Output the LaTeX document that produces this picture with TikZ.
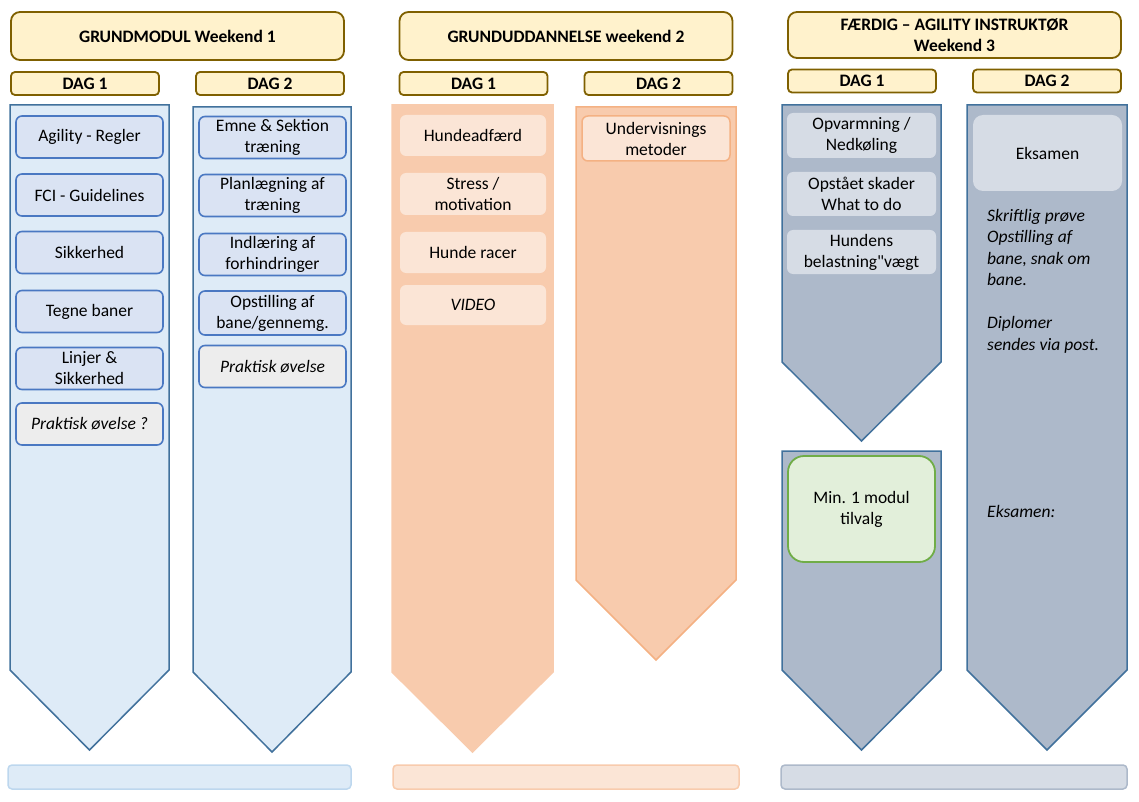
\documentclass[tikz,border=0pt]{standalone}
\usepackage{fontspec}
\setmainfont{Carlito}[Ligatures=TeXOff]
\usetikzlibrary{positioning}

\definecolor{headfill}{HTML}{FFF2CC}
\definecolor{headline}{HTML}{7F6000}
\definecolor{bluefill}{HTML}{DEEBF7}
\definecolor{blueline}{HTML}{41719C}
\definecolor{barline}{HTML}{BDD7EE}
\definecolor{itemfill}{HTML}{DAE3F3}
\definecolor{itemline}{HTML}{4A78C2}
\definecolor{grayfill}{HTML}{EDEDED}
\definecolor{orangefill}{HTML}{F8CBAD}
\definecolor{orangeline}{HTML}{F4B183}
\definecolor{orangeitem}{HTML}{FBE5D6}
\definecolor{slatefill}{HTML}{ADB9CA}
\definecolor{slateitem}{HTML}{D6DCE5}
\definecolor{greenfill}{HTML}{E2EFDA}
\definecolor{greenline}{HTML}{70AD47}

\begin{document}
\begin{tikzpicture}[x=1pt, y=-1pt, font=\fontsize{17.5}{21}\selectfont,
  head/.style={draw=headline, fill=headfill, line width=1.8pt, rounded corners=9pt,
    inner sep=0pt, minimum width=333pt, align=center, font=\fontsize{17.5}{21}\selectfont\bfseries},
  dag/.style={draw=headline, fill=headfill, line width=1.8pt, rounded corners=4pt,
    inner sep=0pt, minimum width=148pt, minimum height=23pt, font=\fontsize{17.5}{21}\selectfont\bfseries},
  item/.style={draw=itemline, fill=itemfill, line width=1.6pt, rounded corners=6pt,
    inner sep=0pt, minimum width=147pt, minimum height=42pt, align=center},
  task/.style={item, fill=grayfill, font=\fontsize{17.5}{21}\selectfont\itshape},
  peach/.style={fill=orangeitem, rounded corners=6pt, inner sep=0pt,
    minimum width=146pt, minimum height=41pt, align=center},
  slate/.style={fill=slateitem, rounded corners=6pt, inner sep=0pt,
    minimum width=149pt, minimum height=44pt, align=center},
  blueday/.style={fill=bluefill, draw=blueline},
  peachday/.style={fill=orangefill, draw=orangefill},
  peachday2/.style={fill=orangefill, draw=orangeline},
  slateday/.style={fill=slatefill, draw=blueline},
  bar/.style={line width=1.5pt, rounded corners=4pt, inner sep=0pt, minimum height=24pt}]
  \useasboundingbox (0,0) rectangle (1139,802);

  % arrows for each day
  \foreach \xa/\xb/\ya/\yb/\yc/\sty in {
      10/169/105/670/750/blueday, 193/351/107/672/752/blueday,
      392/553/105/672/752/peachday, 576/736/107/580/660/peachday2,
      782/941/105/362/441/slateday, 782/941/451/670/750/slateday,
      967/1127/105/670/750/slateday}
    \draw[line width=1.5pt, \sty] (\xa,\ya) -- (\xb,\ya) -- (\xb,\yb)
      -- ({(\xa+\xb)/2},\yc) -- (\xa,\yb) -- cycle;

  % headers
  \node[head, minimum height=48pt] (w1) at (177.5,36) {GRUNDMODUL Weekend 1};
  \node[head, minimum height=48pt] (w2) at (566,36) {GRUNDUDDANNELSE weekend 2};
  \node[head, minimum height=46pt] (w3) at (954.5,35) {FÆRDIG – AGILITY INSTRUKTØR\\Weekend 3};
  \node[dag] (w1d1) at (85,83.5) {DAG 1};
  \node[dag] (w1d2) at (270,83.5) {DAG 2};
  \node[dag] (w2d1) at (473.5,83.5) {DAG 1};
  \node[dag] (w2d2) at (658.5,83.5) {DAG 2};
  \node[dag] (w3d1) at (862,81) {DAG 1};
  \node[dag] (w3d2) at (1047,81) {DAG 2};

  % weekend 1
  \node[item] (agility) at (89.5,137) {Agility - Regler};
  \node[item] (fci) at (89.5,195) {FCI - Guidelines};
  \node[item] (sikker) at (89.5,252.5) {Sikkerhed};
  \node[item] (tegne) at (89.5,311.5) {Tegne baner};
  \node[item] (linjer) at (89.5,368.5) {Linjer \&\\Sikkerhed};
  \node[task] (prak1) at (89.5,424) {Praktisk øvelse ?};
  \node[item] (emne) at (272.5,137.5) {Emne \& Sektion\\træning};
  \node[item] (plan) at (272.5,195.5) {Planlægning af\\træning};
  \node[item] (indl) at (272.5,254.5) {Indlæring af\\forhindringer};
  \node[item, minimum height=44pt] (opst) at (272.5,313) {Opstilling af\\bane/gennemg.};
  \node[task] (prak2) at (272.5,366.5) {Praktisk øvelse};

  % weekend 2
  \node[peach] (adfaerd) at (473,135.5) {Hundeadfærd};
  \node[peach, minimum height=42pt] (stress) at (473,194) {Stress /\\motivation};
  \node[peach] (racer) at (473,252.5) {Hunde racer};
  \node[peach, minimum height=40pt, font=\fontsize{17.5}{21}\selectfont\itshape] (video) at (473,305) {VIDEO};
  \node[peach, draw=orangeline, line width=1.5pt, minimum width=148pt, minimum height=45pt] (underv) at (656,138.5) {Undervisnings\\metoder};

  % weekend 3
  \node[slate, minimum height=45pt] (opvarm) at (861.5,135.5) {Opvarmning /\\Nedkøling};
  \node[slate] (skader) at (861.5,194) {Opstået skader\\What to do};
  \node[slate] (belast) at (861.5,252) {Hundens\\belastning"vægt};
  \node[draw=greenline, fill=greenfill, line width=1.8pt, rounded corners=16pt, inner sep=0pt,
    minimum width=147pt, minimum height=106pt, align=center] (tilvalg) at (861.5,509) {Min. 1 modul\\tilvalg};
  \node[slate, minimum height=76pt, rounded corners=10pt] (eksamen) at (1047.5,153) {Eksamen};
  \node[anchor=north west, align=left, inner sep=0pt, font=\fontsize{17.5}{21.5}\selectfont\itshape]
    (proeve) at (987,209) {Skriftlig prøve\\Opstilling af\\bane, snak om\\bane.\\[21.5pt]Diplomer\\sendes via post.};
  \node[anchor=west, inner sep=0pt, font=\fontsize{17.5}{21}\selectfont\itshape] (eksnote) at (987,511) {Eksamen:};

  % bars at the bottom
  \node[bar, draw=barline, fill=bluefill, minimum width=343pt] (bar1) at (179.5,777) {};
  \node[bar, draw=orangefill, fill=orangeitem, minimum width=346pt] (bar2) at (566,777) {};
  \node[bar, draw=slatefill, fill=slateitem, minimum width=346pt] (bar3) at (954,777) {};
\end{tikzpicture}
\end{document}
